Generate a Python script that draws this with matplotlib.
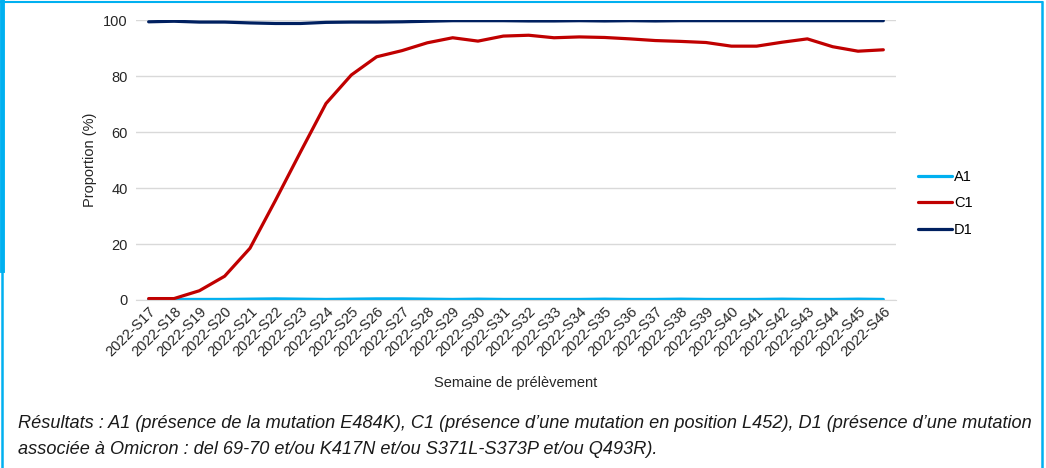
import matplotlib.pyplot as plt
from matplotlib.lines import Line2D

weeks = ["2022-S%d" % w for w in range(17, 47)]

a1 = [0.2, 0.2, 0.2, 0.2, 0.3, 0.4, 0.3, 0.2, 0.3, 0.4, 0.4, 0.3, 0.2, 0.3, 0.2,
      0.2, 0.2, 0.2, 0.3, 0.2, 0.2, 0.3, 0.2, 0.2, 0.2, 0.3, 0.2, 0.2, 0.3, 0.2]
c1 = [0.5, 0.5, 3.3, 8.5, 18.5, 35.5, 53.0, 70.2, 80.4, 86.9, 89.1, 91.9, 93.7, 92.5, 94.3,
      94.6, 93.7, 94.0, 93.8, 93.3, 92.7, 92.4, 92.0, 90.7, 90.7, 92.1, 93.3, 90.5, 88.9, 89.4]
d1 = [99.4, 99.6, 99.3, 99.3, 99.0, 98.8, 98.8, 99.2, 99.3, 99.3, 99.4, 99.6, 99.8, 99.8, 99.8,
      99.7, 99.7, 99.8, 99.7, 99.8, 99.7, 99.8, 99.8, 99.8, 99.8, 99.8, 99.8, 99.8, 99.8, 99.8]

series = [("A1", a1, "#00B0F0"), ("C1", c1, "#C00000"), ("D1", d1, "#002060")]

plt.rcParams["font.family"] = ["Liberation Sans", "DejaVu Sans"]

fig = plt.figure(figsize=(10.46, 4.68), dpi=100)
ax = fig.add_axes([0.130, 0.359, 0.7266, 0.598])

x = list(range(len(weeks)))
for name, vals, col in series:
    ax.plot(x, vals, color=col, linewidth=2.3, label=name, solid_capstyle="round")

fs = 10.5
ax.set_xlim(-0.5, len(weeks) - 0.5)
ax.set_ylim(0, 100)
ax.set_yticks([0, 20, 40, 60, 80, 100])
ax.set_xticks(x)
ax.set_xticklabels(weeks, rotation=45, ha="right", rotation_mode="anchor", fontsize=fs)
ax.tick_params(axis="y", labelsize=fs, length=0, pad=6, colors="#262626")
ax.tick_params(axis="x", length=0, pad=3, colors="#262626")
ax.grid(axis="y", color="#D9D9D9", linewidth=1)
ax.set_axisbelow(True)
for s in ["top", "right", "left"]:
    ax.spines[s].set_visible(False)
ax.spines["bottom"].set_color("#D9D9D9")

ax.set_ylabel("Proportion (%)", fontsize=fs, color="#262626", labelpad=4)
ax.set_xlabel("Semaine de prélèvement", fontsize=fs, color="#262626", labelpad=12)

ax.legend(loc="center left", bbox_to_anchor=(1.012, 0.345), frameon=False, fontsize=fs,
          handlelength=2.3, handletextpad=0.15, labelspacing=0.85)

caption1 = ("Résultats : A1 (présence de la mutation E484K), C1 (présence d\u2019une mutation "
            "en position L452), D1 (présence d\u2019une mutation")
caption2 = "associée à Omicron : del 69-70 et/ou K417N et/ou S371L-S373P et/ou Q493R)."
fig.text(18 / 1046, 1 - 423 / 468, caption1, fontsize=13.1, style="italic", va="center",
         family=["Liberation Sans Narrow", "Liberation Sans"], color="#1a1a1a")
fig.text(18 / 1046, 1 - 449 / 468, caption2, fontsize=13.1, style="italic", va="center",
         family=["Liberation Sans Narrow", "Liberation Sans"], color="#1a1a1a")

# frame around the figure
W, H = 1046, 468
bc = "#00B0F0"
fig.add_artist(Line2D([2 / W, 2 / W], [0, 1], color=bc, linewidth=1.8, transform=fig.transFigure))
fig.add_artist(Line2D([1.5 / W, 1.5 / W], [1 - 270 / H, 1], color=bc, linewidth=3.5, transform=fig.transFigure))
fig.add_artist(Line2D([0, 1042 / W], [1 - 2 / H, 1 - 2 / H], color=bc, linewidth=1.5, transform=fig.transFigure))
fig.add_artist(Line2D([1042 / W, 1042 / W], [0, 1 - 2 / H], color=bc, linewidth=1.8, transform=fig.transFigure))

fig.savefig("out.png", dpi=100)
